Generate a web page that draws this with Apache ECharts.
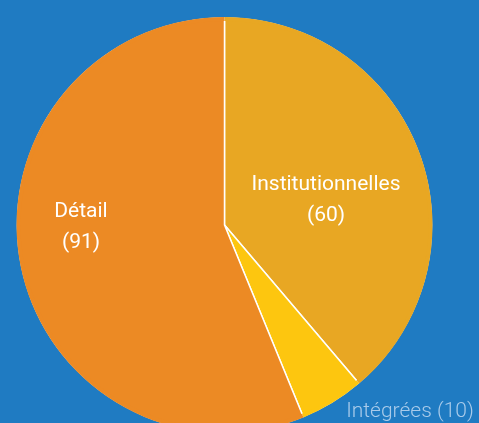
<!DOCTYPE html>
<html><head><meta charset="utf-8">
<script src="https://cdn.jsdelivr.net/npm/echarts@6/dist/echarts.min.js"></script>
<style>html,body{margin:0;padding:0;background:#1f7bc2}#c{width:479px;height:423px}</style>
</head><body><div id="c"></div>
<script>
var categories = ["Institutionnelles", "Intégrées", "Détail"];
var counts = [60, 10, 91];
var shares = [38.8, 5.0, 56.2];
var colors = ["#e8a723", "#fdc60f", "#ec8a24"];

var chart = echarts.init(document.getElementById('c'), null, {renderer: 'canvas'});
var labelPos = [[326, 200], [410, 412], [81, 227]];
var center = [224.5, 225];
chart.setOption({
  backgroundColor: '#1f7bc2',
  animation: false,
  series: [{
    type: 'pie',
    center: center,
    radius: 207,
    startAngle: 90,
    clockwise: true,
    silent: true,
    itemStyle: {borderColor: '#ffffff', borderWidth: 1.5},
    labelLine: {show: false},
    labelLayout: function (p) {
      return {x: labelPos[p.dataIndex][0], y: labelPos[p.dataIndex][1], align: 'center', verticalAlign: 'middle'};
    },
    data: categories.map(function (n, i) {
      var inside = i !== 1;
      return {
        name: n, value: shares[i],
        itemStyle: {color: colors[i]},
        label: inside ? {
          show: true, position: 'inside', color: '#ffffff',
          fontFamily: 'Roboto, sans-serif', fontSize: 21, lineHeight: 31,
          formatter: n + '\n(' + counts[i] + ')'
        } : {
          show: true, position: 'outside', color: '#a9cbea', overflow: 'none', width: 200,
          fontFamily: 'Roboto, sans-serif', fontWeight: 300, fontSize: 21,
          formatter: n + ' (' + counts[i] + ')'
        }
      };
    })
  }, {
    type: 'pie',
    center: center,
    radius: [204, 208],
    startAngle: 90,
    clockwise: true,
    silent: true,
    label: {show: false},
    labelLine: {show: false},
    itemStyle: {borderWidth: 0},
    data: categories.map(function (n, i) {
      return {name: n, value: shares[i], itemStyle: {color: colors[i]}};
    })
  }]
});
</script></body></html>
